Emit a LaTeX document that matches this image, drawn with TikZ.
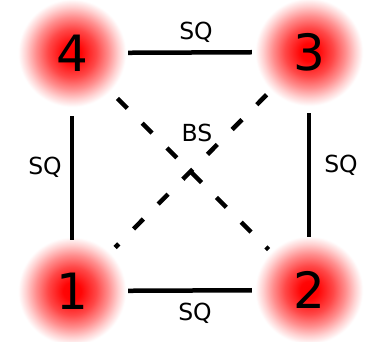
\documentclass[tikz,border=0pt]{standalone}
\usepackage{fontspec}
\setmainfont{DejaVu Sans}
\pgfdeclareradialshading{glowshade}{\pgfpoint{0bp}{0bp}}{rgb(0bp)=(1,0,0); rgb(4bp)=(1,0.02,0.02); rgb(11bp)=(1,0.28,0.28); rgb(16.5bp)=(1,0.56,0.56); rgb(21bp)=(1,0.82,0.82); rgb(24.5bp)=(1,1,1); rgb(50bp)=(1,1,1)}
\tikzset{
  vertex/.style={circle, minimum size=110pt, inner sep=0pt, shading=glowshade, font=\fontsize{50}{50}\selectfont},
  sqline/.style={line width=4.5pt},
  bsline/.style={line width=4.5pt, dash pattern=on 14pt off 21pt},
  lbl/.style={font=\fontsize{23.5}{23.5}\selectfont, inner sep=0pt}
}
\begin{document}
\begin{tikzpicture}[x=1pt,y=-1pt]
\useasboundingbox (0,0) rectangle (366,341);
\node[vertex] (n4) at (72,53) {4};
\node[vertex] (n3) at (309,52) {3};
\node[vertex] (n1) at (72,291) {1};
\node[vertex] (n2) at (309,290) {2};
\draw[sqline, shorten <=1pt, shorten >=2pt] (n4) -- (n3);
\draw[sqline, shorten <=1pt, shorten >=2pt] (n1) -- (n2);
\draw[sqline, shorten <=8pt, shorten >=-4pt] (n4) -- (n1);
\draw[sqline, shorten <=6pt, shorten >=-2pt] (n3) -- (n2);
\draw[bsline, shorten <=9pt, shorten >=2pt] (n4) -- (n2);
\draw[bsline, shorten <=5pt, shorten >=6pt] (n3) -- (n1);
\node[lbl] (ltop) at (196,32) {SQ};
\node[lbl] (lbot) at (195,313) {SQ};
\node[lbl] (lleft) at (45,167) {SQ};
\node[lbl] (lright) at (341,165) {SQ};
\node[lbl] (lbs) at (197,133) {BS};
\end{tikzpicture}
\end{document}
